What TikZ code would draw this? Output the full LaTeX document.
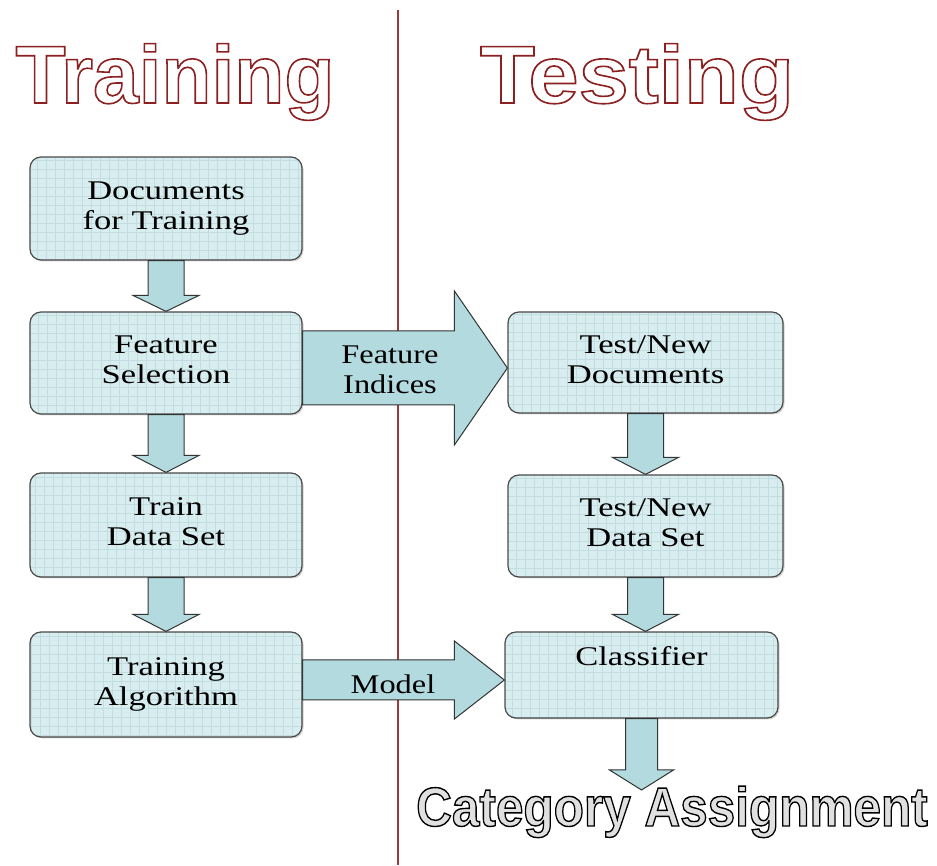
\documentclass[tikz,border=0pt]{standalone}
\usepackage{fontspec}
\setmainfont{Liberation Serif}
\newfontfamily\headfont{Liberation Sans}
\usepackage{graphicx}
\usetikzlibrary{calc,shadows}
\definecolor{boxfill}{HTML}{D8EDEF}
\definecolor{gridc}{HTML}{C2DCE0}
\definecolor{arrfill}{HTML}{B3DADF}
\definecolor{boxline}{HTML}{4A4A4A}
\definecolor{sepred}{HTML}{9B3A3A}
\newcommand\bt[1]{\scalebox{1.28}[1]{\begin{tabular}{@{}c@{}}#1\end{tabular}}}
% outlined text: #1 = stroke colour (pdf RG), #2 = line width, #3 = text
\newcommand\outlined[3]{\special{pdf:literal direct 2 Tr #2 w #1 RG}#3\special{pdf:literal direct 0 Tr}}
\newcommand\dnarr[3]{%
  \draw[arrowbody] let \p1=(#1.south), \p2=(#2.north) in
   (\x1-18pt,\y1) -- (\x1-18pt,\y2+#3) -- (\x1-33pt,\y2+#3) -- (\x1,\y2)
   -- (\x1+33pt,\y2+#3) -- (\x1+18pt,\y2+#3) -- (\x1+18pt,\y1) -- cycle;}
\newcommand\rtarr[6]{%
  \draw[arrowbody] let \p1=(#1.east), \p2=(#2.west) in
   (\x1,#3+#4) -- (\x2-#6,#3+#4) -- (\x2-#6,#3+#5) -- (\x2,#3)
   -- (\x2-#6,#3-#5) -- (\x2-#6,#3-#4) -- (\x1,#3-#4) -- cycle;}
\tikzset{
  stagebox/.style={draw=boxline, line width=1.2pt, fill=boxfill, rounded corners=11pt,
    minimum width=272pt, inner sep=0pt,
    font=\fontsize{27}{30}\selectfont, text=black,
    drop shadow={shadow xshift=1.5pt, shadow yshift=-1.5pt, opacity=0.35},
    path picture={\draw[gridc, line width=0.5pt, step=9pt]
      (path picture bounding box.south west) grid (path picture bounding box.north east);}},
  arrowbody/.style={draw=black!80, line width=1pt, fill=arrfill, line join=miter},
  arrowlabel/.style={font=\fontsize{27}{30}\selectfont, text=black, inner sep=0pt},
  title/.style={font=\headfont\bfseries\fontsize{82}{90}\selectfont, inner sep=0pt, anchor=base, text=white},
}
\begin{document}
\begin{tikzpicture}[x=1pt,y=1pt]
\useasboundingbox (0,0) rectangle (937,865);
% separator
\draw[sepred, line width=1.6pt] (398,855) -- (398,0);
% titles
\node[title] (ttrain) at (175,762) {\outlined{0.55 0.12 0.12}{1.6}{Training}};
\node[title] (ttest) at (637,762) {\scalebox{1.1}[1]{\outlined{0.55 0.12 0.12}{1.6}{Testing}}};
% boxes
\node[stagebox, minimum height=103pt] (doc) at (166,656.5) {\bt{Documents\\for Training}};
\node[stagebox, minimum height=102pt] (fs) at (166,502) {\bt{Feature\\Selection}};
\node[stagebox, minimum height=104pt] (tds) at (166,340) {\bt{Train\\Data Set}};
\node[stagebox, minimum height=105pt] (ta) at (166,180.5) {\bt{Training\\Algorithm}};
\node[stagebox, minimum width=275pt, minimum height=101pt] (td) at (645.5,502.5) {\bt{Test/New\\Documents}};
\node[stagebox, minimum width=275pt, minimum height=102pt] (tnds) at (645.5,339) {\bt{Test/New\\Data Set}};
\node[stagebox, minimum width=273pt, minimum height=86pt] (cl) at (641.5,190) {\bt{Classifier\\\strut}};
% category text
\node[font=\headfont\bfseries\fontsize{55}{60}\selectfont, inner sep=0pt, anchor=base, text=white!88!black] (cat) at (672,39)
  {\scalebox{0.9}[1]{\outlined{0 0 0}{1.4}{Category Assignment}}};
% vertical arrows
\dnarr{doc}{fs}{16pt}
\dnarr{fs}{tds}{17pt}
\dnarr{tds}{ta}{17pt}
\dnarr{td}{tnds}{17pt}
\dnarr{tnds}{cl}{17pt}
\coordinate (catTop) at (641.5,75);
\draw[arrowbody] let \p1=(cl.south), \p2=(catTop) in
   (\x1-16pt,\y1) -- (\x1-16pt,\y2+20pt) -- (\x1-32pt,\y2+20pt) -- (\x1,\y2)
   -- (\x1+32pt,\y2+20pt) -- (\x1+16pt,\y2+20pt) -- (\x1+16pt,\y1) -- cycle;
% horizontal arrows
\rtarr{fs}{td}{497pt}{37pt}{77pt}{53pt}
\rtarr{ta}{cl}{185pt}{20pt}{39pt}{50pt}
\node[arrowlabel, align=center] (fi) at (390,492) {\scalebox{1.2}[1]{\begin{tabular}{@{}c@{}}Feature\\Indices\end{tabular}}};
\node[arrowlabel] (ml) at (393,181) {\scalebox{1.2}[1]{Model}};
\end{tikzpicture}
\end{document}
